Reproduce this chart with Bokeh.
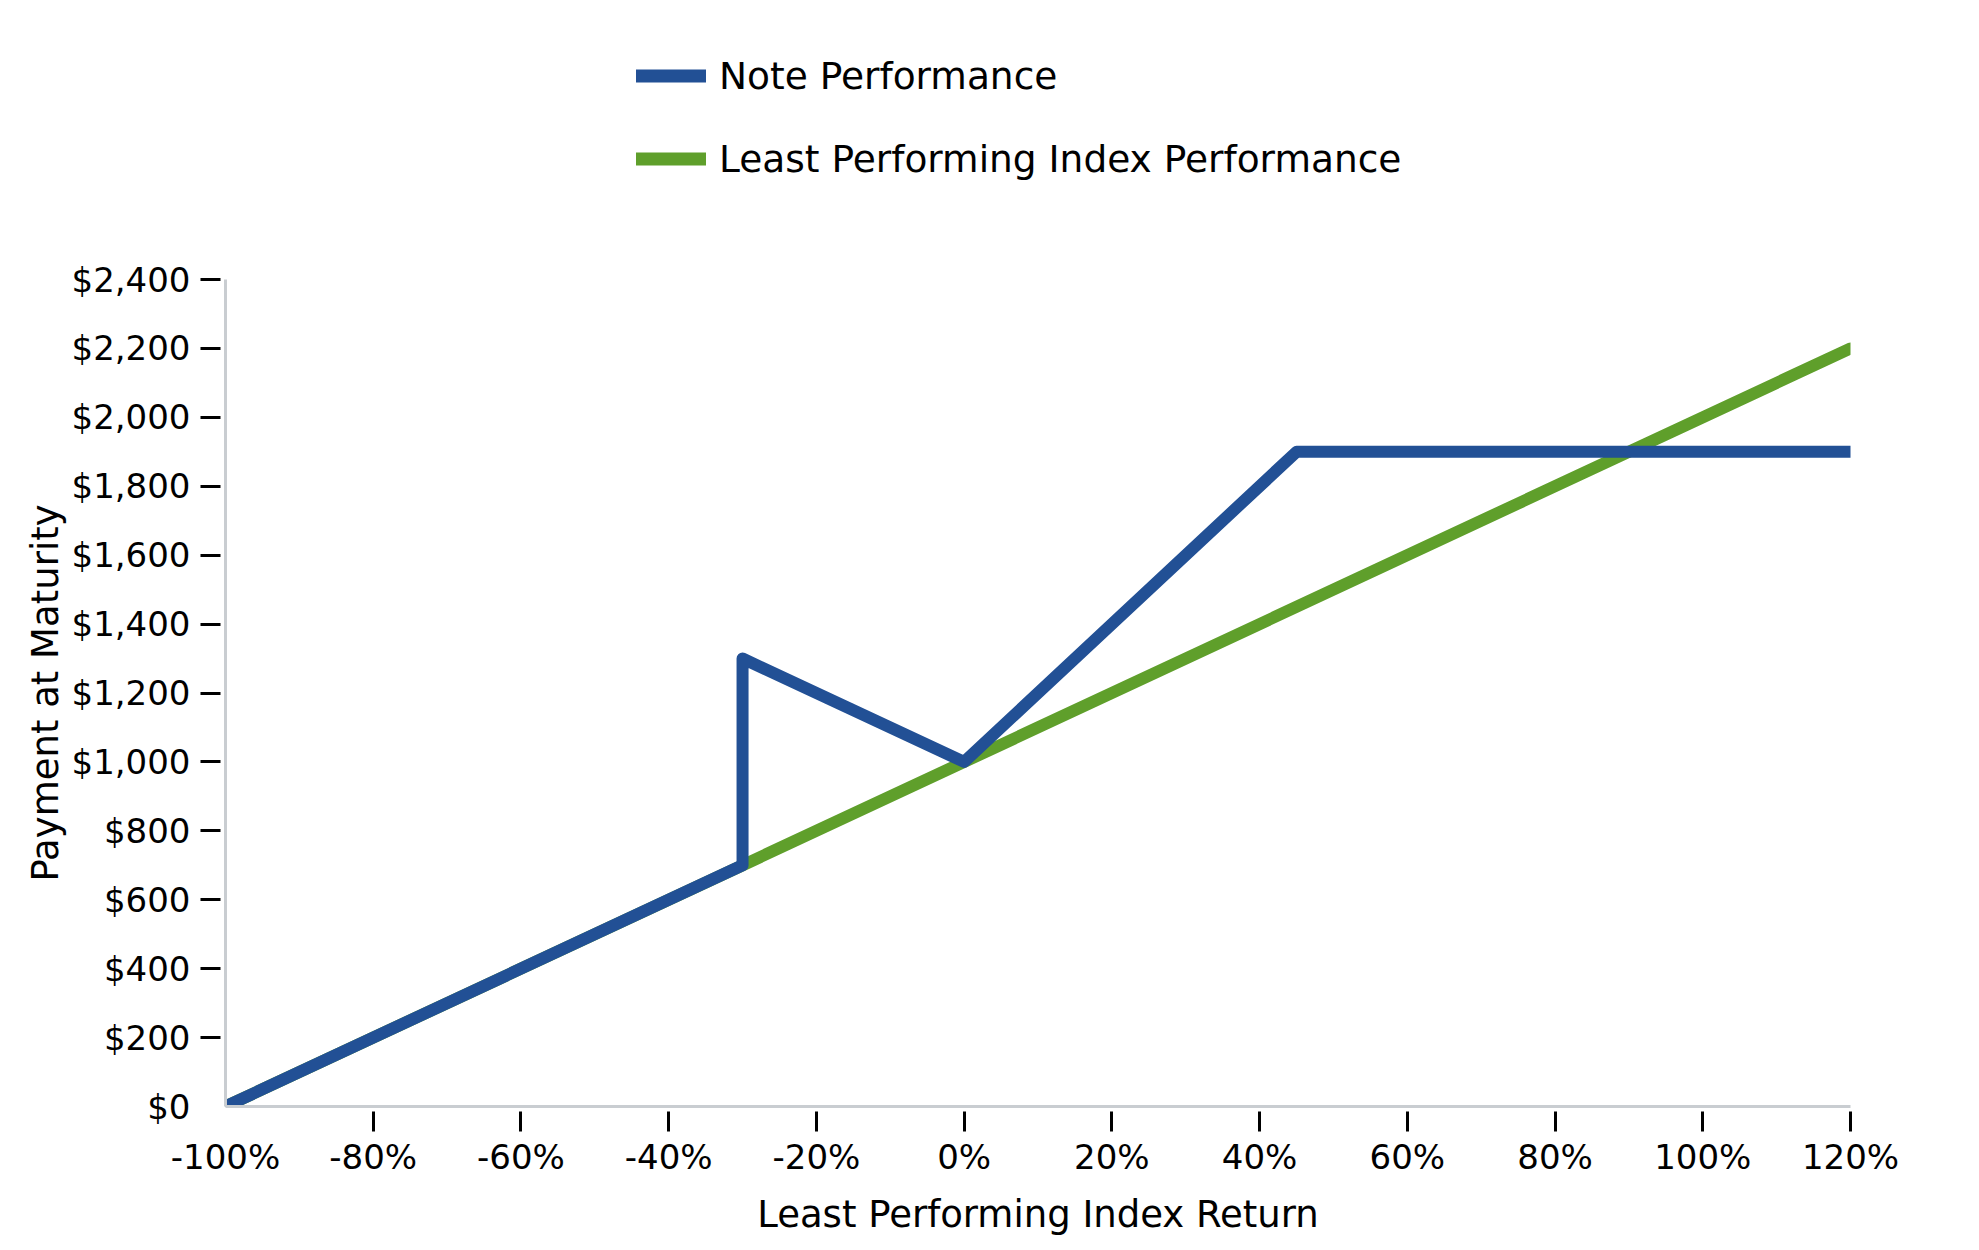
from bokeh.plotting import figure
from bokeh.layouts import column
from bokeh.models import Range1d, FixedTicker, NumeralTickFormatter, Legend, LegendItem
from bokeh.embed import file_html
from bokeh.resources import INLINE

# ---- data ----
note_x = [-100, -30, -30, 0, 45, 120]          # least performing index return (%)
note_y = [0, 700, 1300, 1000, 1900, 1900]      # note payment at maturity ($)
index_x = [-100, 120]
index_y = [0, 2200]

x_ticks = [-100, -80, -60, -40, -20, 0, 20, 40, 60, 80, 100, 120]
x_tick_labels = ["-100%", "-80%", "-60%", "-40%", "-20%", "0%", "20%", "40%",
                 "60%", "80%", "100%", "120%"]
y_ticks = [0, 200, 400, 600, 800, 1000, 1200, 1400, 1600, 1800, 2000, 2200, 2400]

series_names = ["Note Performance", "Least Performing Index Performance"]
BLUE = "#225095"
GREEN = "#5f9f2b"
AXIS_GREY = "#c9cdd1"
FONT = "DejaVu Sans"
W = 1960
LEGEND_H = 249

# ---- legend strip on top (its own plot, data kept outside its visible range) ----
lf = figure(width=W, height=LEGEND_H, output_backend="svg", toolbar_location=None,
            x_range=Range1d(-100, 120), y_range=Range1d(5000, 6000),
            x_axis_location=None, y_axis_location=None, min_border=0)
lf.outline_line_color = None
lf.xgrid.visible = False
lf.ygrid.visible = False
l_note = lf.line(note_x, note_y, line_color=BLUE, line_width=13, line_cap="round")
l_index = lf.line(index_x, index_y, line_color=GREEN, line_width=13, line_cap="round")
legend = Legend(items=[LegendItem(label=series_names[0], renderers=[l_note]),
                       LegendItem(label=series_names[1], renderers=[l_index])],
                location=(411, 68), orientation="vertical",
                glyph_width=70, glyph_height=45, label_height=45, spacing=38,
                label_standoff=13, padding=0, margin=0,
                label_text_font=FONT, label_text_font_size="37.5px",
                label_text_color="black",
                border_line_color=None, background_fill_alpha=0)
lf.add_layout(legend)

# ---- main chart ----
p = figure(width=W, height=1238 - LEGEND_H, output_backend="svg", toolbar_location=None,
           x_range=Range1d(-100, 120), y_range=Range1d(0, 2400),
           min_border_left=225, min_border_right=110,
           min_border_top=279 - LEGEND_H, min_border_bottom=130)
p.outline_line_color = None
p.xgrid.visible = False
p.ygrid.visible = False
p.background_fill_color = "white"
p.border_fill_color = "white"

p.line(index_x, index_y, line_color=GREEN, line_width=12,
       line_cap="round", line_join="round")
p.line(note_x, note_y, line_color=BLUE, line_width=12,
       line_cap="round", line_join="round")

for ax, ticks, minor in ((p.xaxis[0], x_ticks, x_ticks[1:]), (p.yaxis[0], y_ticks, y_ticks[1:])):
    ax.ticker = FixedTicker(ticks=ticks, minor_ticks=minor)
    ax.axis_line_color = AXIS_GREY
    ax.axis_line_width = 3
    ax.major_tick_line_color = None
    ax.major_tick_in = 0
    ax.major_tick_out = 25
    ax.minor_tick_line_color = "black"
    ax.minor_tick_line_width = 3
    ax.minor_tick_in = -5
    ax.minor_tick_out = 25
    ax.major_label_text_font = FONT
    ax.major_label_text_font_size = "34px"
    ax.major_label_text_color = "black"
    ax.axis_label_text_font = FONT
    ax.axis_label_text_font_size = "37px"
    ax.axis_label_text_font_style = "normal"
    ax.axis_label_text_color = "black"

p.xaxis.major_label_overrides = {t: s for t, s in zip(x_ticks, x_tick_labels)}
p.xaxis.major_label_standoff = 5
p.xaxis.axis_label = "Least Performing Index Return"
p.xaxis.axis_label_standoff = 13

p.yaxis.formatter = NumeralTickFormatter(format="$0,0")
p.yaxis.major_label_standoff = 10
p.yaxis.axis_label = "Payment at Maturity"
p.yaxis.axis_label_standoff = 2

layout = column(lf, p, spacing=0)
open("out.html", "w").write(file_html(layout, INLINE))
